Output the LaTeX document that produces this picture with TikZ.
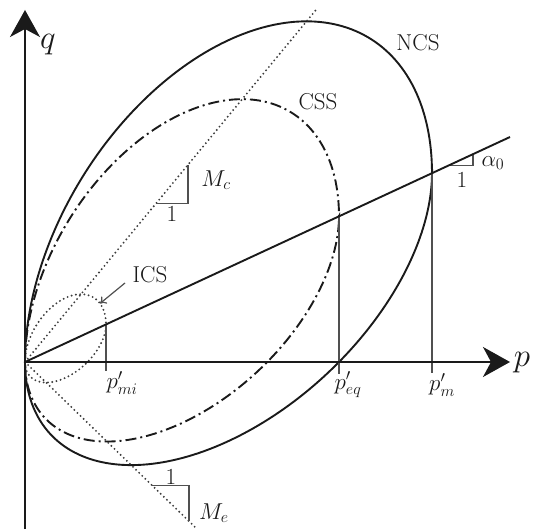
\RequirePackage{fix-cm}
\documentclass[tikz,border=0pt]{standalone}
\usetikzlibrary{arrows.meta}
\definecolor{ink}{HTML}{1A1A1A}
\definecolor{thin}{HTML}{505050}
\def\al{0.464}
\def\ku{1.1176}
\def\kl{0.8526}
\newcommand{\yieldpath}[1]{plot[domain=0:180,samples=120,variable=\t]
  ({#1*(1-cos(\t))/2},{#1*(\al*(1-cos(\t))/2+\ku*sin(\t)/2)})
  -- plot[domain=180:360,samples=120,variable=\t]
  ({#1*(1-cos(\t))/2},{#1*(\al*(1-cos(\t))/2+\kl*sin(\t)/2)}) -- cycle}
\begin{document}
\begin{tikzpicture}[x=1pt,y=1pt,
  curve/.style={line width=1.9pt, draw=ink},
  dotline/.style={line width=2.1pt, draw=ink!85, line cap=round, dash pattern=on 0pt off 4.3pt},
  dashdot/.style={line width=1.9pt, draw=ink, dash pattern=on 11pt off 4pt on 2pt off 4pt},
  guide/.style={line width=1.2pt, draw=thin},
  lbl/.style={font=\fontsize{23}{27}\selectfont, inner sep=0pt, text=ink},
  axlbl/.style={font=\fontsize{33}{38}\selectfont, inner sep=0pt, text=ink},
  axisline/.style={line width=1.9pt, draw=ink, -{Stealth[length=27pt,width=30pt,inset=8pt]}}]
\useasboundingbox (-25,-167) rectangle (509,362);

% named points
\coordinate (O) at (0,0);
\coordinate (qbot) at (0,-167);
\coordinate (qtop) at (0,352);
\coordinate (pend) at (485,0);
\coordinate (aend) at (485,225);
\coordinate (mcend) at (292,353.3);
\coordinate (meend) at (172,-167);
\coordinate (Ami) at (81,37.6);
\coordinate (Aeq) at (314,145.7);
\coordinate (Am) at (407,188.8);
\coordinate (Bmi) at (81,-9);
\coordinate (Beq) at (314,-12);
\coordinate (Bm) at (407,-11);
\coordinate (icspt) at (75,58.5);

% yield surfaces
\draw[curve] \yieldpath{407};
\draw[dashdot] \yieldpath{314};
\draw[dotline] \yieldpath{81};

% Mc and Me lines
\draw[dotline] (O) -- (mcend);
\draw[dotline] (O) -- (meend);

% guides
\draw[guide] (Ami) -- (Bmi);
\draw[guide] (Aeq) -- (Beq);
\draw[guide] (Am) -- (Bm);

% slope triangles
\coordinate (mc1) at (131,158.5);
\coordinate (mc2) at (163,158.5);
\coordinate (mc3) at (163,197.2);
\draw[guide] (mc1) -- (mc2) -- (mc3);
\coordinate (me1) at (127,-123.2);
\coordinate (me2) at (164,-123.2);
\coordinate (me3) at (164,-159.1);
\draw[guide] (me1) -- (me2) -- (me3);
\coordinate (a1) at (424,196.7);
\coordinate (a2) at (448,196.7);
\coordinate (a3) at (448,207.9);
\draw[guide] (a1) -- (a2) -- (a3);

% alpha line
\draw[curve] (O) -- (aend);

% axes
\draw[axisline] (qbot) -- (qtop);
\draw[axisline] (O) -- (pend);

% labels
\node[axlbl] (ql) at (23,317) {$q$};
\node[axlbl] (pl) at (497,-1) {$p$};
\node[lbl] (ncs) at (393,319) {NCS};
\node[lbl] (css) at (293,260) {CSS};
\node[lbl] (ics) at (125,87) {ICS};
\coordinate (icsarr) at (100,79);
\draw[line width=1.2pt, draw=thin, -{To[length=6pt,width=9pt]}] (icsarr) -- (icspt);
\node[lbl] (one1) at (147,148) {1};
\node[lbl] (mcl) at (191,182) {$M_c$};
\node[lbl] (one2) at (146,-115) {1};
\node[lbl] (mel) at (189,-151) {$M_e$};
\node[lbl] (one3) at (437,182) {1};
\node[lbl] (all) at (468,199) {$\alpha_0$};
\node[lbl] (pmil) at (97,-21) {$p'_{mi}$};
\node[lbl] (peql) at (323,-23) {$p'_{eq}$};
\node[lbl] (pml) at (417,-23) {$p'_{m}$};
\end{tikzpicture}
\end{document}
